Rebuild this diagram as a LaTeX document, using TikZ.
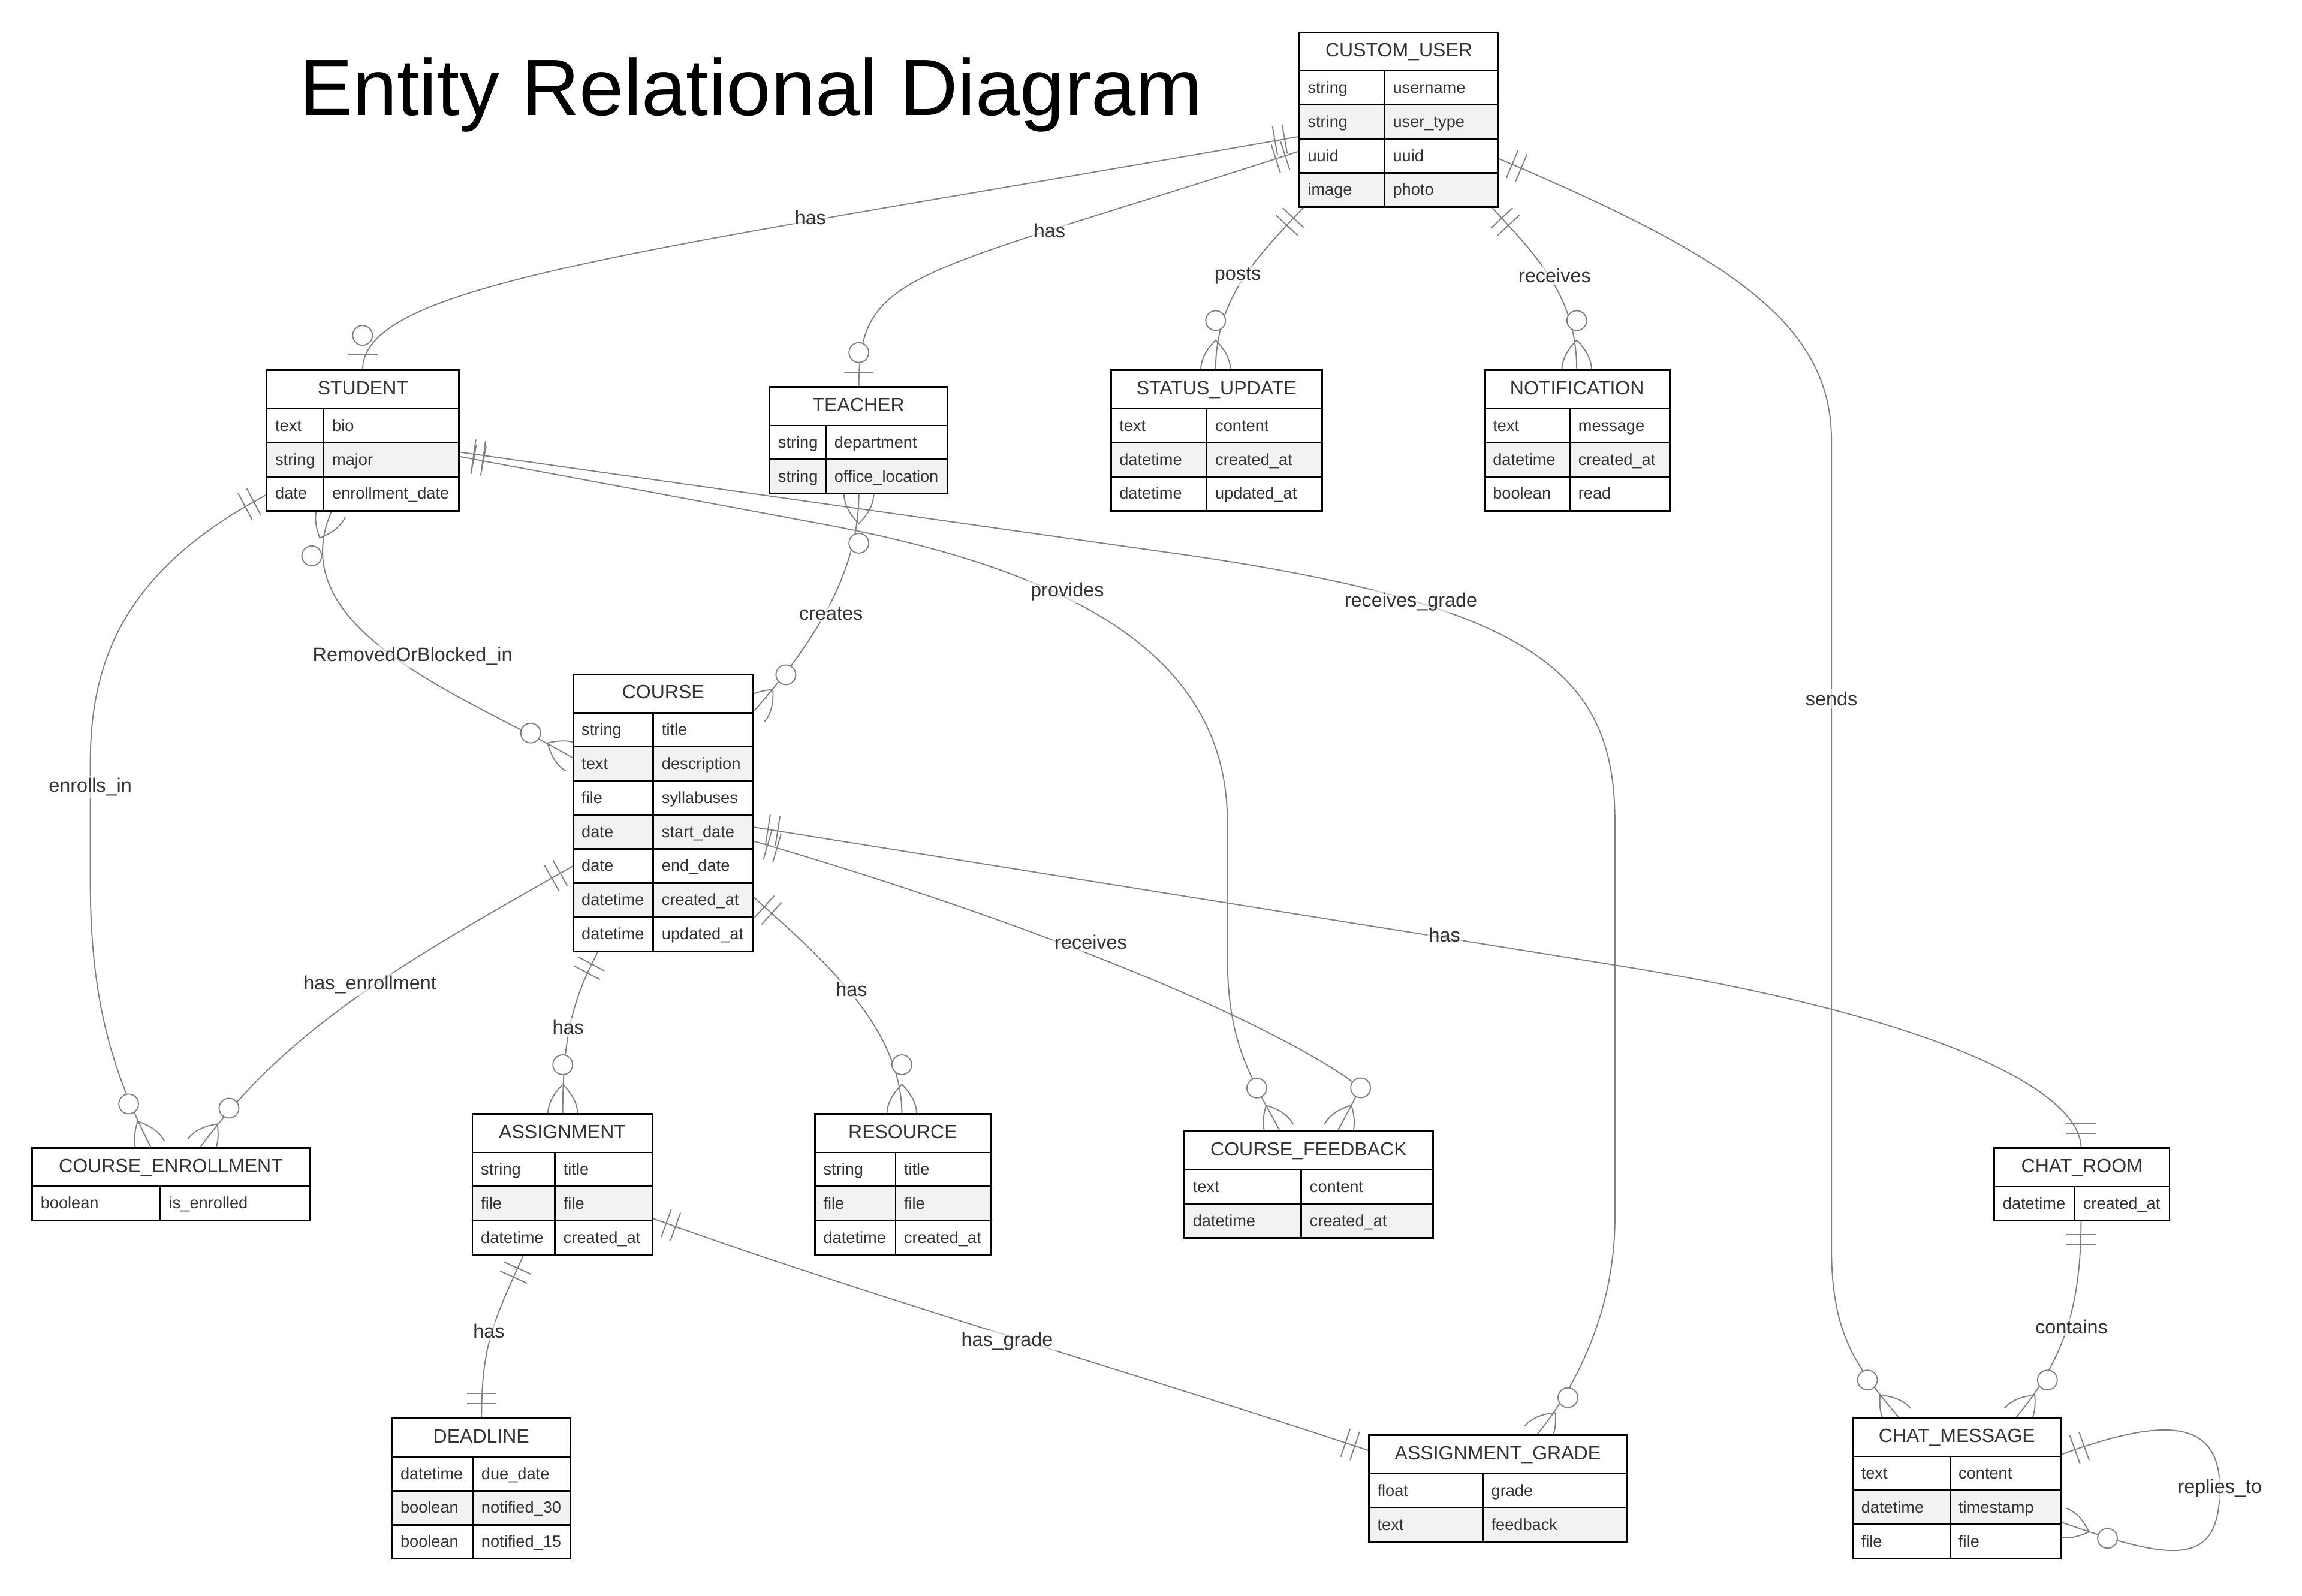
\documentclass[tikz,border=0pt]{standalone}
\usepackage{fontspec}
\setmainfont{Liberation Sans}
\usetikzlibrary{calc}
\definecolor{relgray}{HTML}{808080}
\definecolor{rowgray}{HTML}{F2F2F2}
\definecolor{txt}{HTML}{333333}
\newcommand\fattr{\fontsize{7.9}{9}\selectfont}
\newcommand\fhead{\fontsize{9.3}{11}\selectfont}
\newcommand\flbl{\fontsize{9.4}{11}\selectfont}
\tikzset{
  rel/.style={draw=relgray, line width=0.55pt},
  boxline/.style={draw=black, line width=0.8pt},
  attr/.style={font=\fattr, text=txt, anchor=base west, inner sep=0pt},
  head/.style={font=\fhead, text=txt, anchor=base, inner sep=0pt},
  lbl/.style={font=\flbl, text=txt, fill=white, fill opacity=0.6, text opacity=1, inner sep=1.2pt},
}
% markers: #1 coordinate on box edge, #2 direction pointing away from the box
\newcommand\mkone[2]{%
  \draw[rel] ($(#1)+(#2:10.1)+(#2+90:10.1)$) -- ($(#1)+(#2:10.1)+(#2-90:10.1)$)
             ($(#1)+(#2:16.8)+(#2+90:10.1)$) -- ($(#1)+(#2:16.8)+(#2-90:10.1)$);}
\newcommand\mkzone[2]{%
  \draw[rel] ($(#1)+(#2:10.1)+(#2+90:10.1)$) -- ($(#1)+(#2:10.1)+(#2-90:10.1)$);
  \draw[rel, fill=white] ($(#1)+(#2:23.5)$) circle[radius=0.168cm];}
\newcommand\mkmany[2]{%
  \draw[rel] ($(#1)+(#2+90:10.1)$) .. controls ($(#1)+(#2:6.7)+(#2+90:10.1)$) and ($(#1)+(#2:13.5)+(#2+90:6.7)$) .. ($(#1)+(#2:20.2)$)
     .. controls ($(#1)+(#2:13.5)+(#2-90:6.7)$) and ($(#1)+(#2:6.7)+(#2-90:10.1)$) .. ($(#1)+(#2-90:10.1)$);
  \draw[rel, fill=white] ($(#1)+(#2:33.6)$) circle[radius=0.168cm];}
% entity: id, title, left, top, width, divider x, rows
\newcommand\entity[7]{%
  \pgfmathsetmacro\eL{#3}\pgfmathsetmacro\eT{#4}%
  \pgfmathsetmacro\eR{#3+#5}\pgfmathsetmacro\eH{#4+26.2}%
  \pgfmathsetmacro\eC{#3+#5/2}%
  \path[fill=white] (\eL,\eT) rectangle (\eR,\eH);
  \node[head] (#1-title) at (\eC,\eT+16.7) {#2};
  \foreach \ty/\nm [count=\i] in {#7} {%
    \pgfmathsetmacro\rT{\eH+(\i-1)*23.2}%
    \pgfmathsetmacro\rB{\rT+23.2}%
    \ifodd\i \def\rf{white}\else\def\rf{rowgray}\fi
    \path[fill=\rf] (\eL,\rT) rectangle (\eR,\rB);
    \draw[boxline] (\eL,\rT) -- (\eR,\rT);
    \node[attr] (#1-t\i) at (\eL+5.5,\rT+15.3) {\ty};
    \node[attr] (#1-n\i) at (#6+5.5,\rT+15.3) {\nm};
    \xdef\eB{\rB}%
  }
  \draw[boxline] (#6,\eH) -- (#6,\eB);
  \pgfmathsetmacro\eHt{(\eB-\eT)*0.025}%
  \pgfmathsetmacro\eWd{#5*0.025}%
  \node[boxline, draw, inner sep=0pt, outer sep=0pt, minimum width=\eWd cm, minimum height=\eHt cm, anchor=north west] (#1) at (\eL,\eT) {};
}
\begin{document}
\begin{tikzpicture}[x=0.025cm, y=-0.025cm]
\useasboundingbox (0,0) rectangle (1568,1087);
\fill[white] (0,0) rectangle (1568,1087);

\node[font=\fontsize{38.8}{44}\selectfont, anchor=base west, inner sep=0pt] (title) at (203.5,78.5) {Entity Relational Diagram};

% ---------- endpoint coordinates ----------
\coordinate (p-cu-w1) at (885,93);
\coordinate (p-st-n) at (247,252);
\coordinate (p-cu-w2) at (885,103);
\coordinate (p-te-n) at (585,263.7);
\coordinate (p-cu-s1) at (888,141.2);
\coordinate (p-su-n) at (828,252);
\coordinate (p-cu-s2) at (1016,141.2);
\coordinate (p-no-n) at (1074,252);
\coordinate (p-cu-e) at (1020.7,108);
\coordinate (p-cm-n1) at (1293.6,966);
\coordinate (p-st-w) at (181.7,337);
\coordinate (p-ce-n1) at (103,782);
\coordinate (p-st-s) at (226,348);
\coordinate (p-co-w1) at (390.4,516.5);
\coordinate (p-st-e1) at (312.7,308);
\coordinate (p-ag-n) at (1046.4,978);
\coordinate (p-st-e2) at (312.7,311);
\coordinate (p-cf-n1) at (872,770.8);
\coordinate (p-te-s) at (585,336.5);
\coordinate (p-co-e1) at (513.1,485);
\coordinate (p-co-w2) at (390.4,590);
\coordinate (p-ce-n2) at (136,782);
\coordinate (p-co-s) at (407.6,647.8);
\coordinate (p-as-n) at (383.3,759);
\coordinate (p-co-e2) at (513.1,611);
\coordinate (p-re-n) at (614.3,759);
\coordinate (p-co-e3) at (513.1,573);
\coordinate (p-cf-n2) at (911,770.8);
\coordinate (p-co-e4) at (513.1,563.5);
\coordinate (p-cr-n) at (1417.5,782.3);
\coordinate (p-as-s) at (356.7,854.8);
\coordinate (p-dl-n) at (328,966.3);
\coordinate (p-as-e) at (444.3,830);
\coordinate (p-ag-w) at (932.4,988.3);
\coordinate (p-cr-s) at (1417.5,831.2);
\coordinate (p-cm-n2) at (1373,966);
\coordinate (p-cm-e1) at (1403.8,991);
\coordinate (p-cm-e2) at (1403.8,1037);

% ---------- relationships ----------
% CUSTOM_USER ||--o| STUDENT : has
\draw[rel] (p-cu-w1) .. controls +(170:450) and +(270:60) .. (p-st-n);
\mkone{p-cu-w1}{170} \mkzone{p-st-n}{270}
% CUSTOM_USER ||--o| TEACHER : has
\draw[rel] (p-cu-w2) .. controls +(162:280) and +(270:80) .. (p-te-n);
\mkone{p-cu-w2}{162} \mkzone{p-te-n}{270}
% posts
\draw[rel] (p-cu-s1) .. controls +(133:45) and +(270:50) .. (p-su-n);
\mkone{p-cu-s1}{133} \mkmany{p-su-n}{270}
% receives
\draw[rel] (p-cu-s2) .. controls +(47:45) and +(270:50) .. (p-no-n);
\mkone{p-cu-s2}{47} \mkmany{p-no-n}{270}
% sends
\draw[rel] (p-cu-e) .. controls +(23:170) and +(270:80) .. (1247.5,300) -- (1247.5,850)
   .. controls +(90:60) and +(230:45) .. (p-cm-n1);
\mkone{p-cu-e}{23} \mkmany{p-cm-n1}{230}
% enrolls_in
\draw[rel] (p-st-w) .. controls +(152:110) and +(270:70) .. (61.5,520) -- (61.5,600)
   .. controls +(90:80) and +(242.8:60) .. (p-ce-n1);
\mkone{p-st-w}{152} \mkmany{p-ce-n1}{242.8}
% RemovedOrBlocked_in
\draw[rel] (p-st-s) .. controls +(114:90) and +(210.5:80) .. (p-co-w1);
\mkmany{p-st-s}{114} \mkmany{p-co-w1}{210.5}
% receives_grade
\draw[rel] (p-st-e1) -- (800,377) .. controls +(8:250) and +(270:100) .. (1100,560) -- (1100,830)
   .. controls +(90:60) and +(310:45) .. (p-ag-n);
\mkone{p-st-e1}{8} \mkmany{p-ag-n}{310}
% provides
\draw[rel] (p-st-e2) -- (560,357) .. controls +(10.5:180) and +(270:110) .. (836,560) -- (836,650)
   .. controls +(90:60) and +(241.6:45) .. (p-cf-n1);
\mkone{p-st-e2}{10.5} \mkmany{p-cf-n1}{241.6}
% creates
\draw[rel] (p-te-s) .. controls +(90:55) and +(311.3:60) .. (p-co-e1);
\mkmany{p-te-s}{90} \mkmany{p-co-e1}{311.3}
% has_enrollment
\draw[rel] (p-co-w2) .. controls +(150.5:140) and +(306.5:100) .. (p-ce-n2);
\mkone{p-co-w2}{150.5} \mkmany{p-ce-n2}{306.5}
% COURSE has ASSIGNMENT
\draw[rel] (p-co-s) .. controls +(118:40) and +(270:50) .. (p-as-n);
\mkone{p-co-s}{118} \mkmany{p-as-n}{270}
% COURSE has RESOURCE
\draw[rel] (p-co-e2) .. controls +(42:60) and +(270:60) .. (p-re-n);
\mkone{p-co-e2}{42} \mkmany{p-re-n}{270}
% receives (feedback)
\coordinate (p-cf-c2) at ($(p-cf-n2)+(298:33.6)$);
\draw[rel] (p-co-e3) .. controls +(16.3:230) and +(218:60) .. (p-cf-c2) -- (p-cf-n2);
\mkone{p-co-e3}{16.3} \mkmany{p-cf-n2}{298}
% COURSE has CHAT_ROOM
\draw[rel] (p-co-e4) -- (1100,657.5) .. controls +(9.1:220) and +(270:40) .. (p-cr-n);
\mkone{p-co-e4}{9.1} \mkone{p-cr-n}{270}
% ASSIGNMENT has DEADLINE
\draw[rel] (p-as-s) .. controls +(114.4:50) and +(270:50) .. (p-dl-n);
\mkone{p-as-s}{114.4} \mkone{p-dl-n}{270}
% has_grade
\draw[rel] (p-as-e) .. controls +(20:150) and +(198.5:150) .. (p-ag-w);
\mkone{p-as-e}{20} \mkone{p-ag-w}{198.5}
% contains
\draw[rel] (p-cr-s) .. controls +(90:60) and +(310:50) .. (p-cm-n2);
\mkone{p-cr-s}{90} \mkmany{p-cm-n2}{310}
% replies_to
\draw[rel] (p-cm-e1) .. controls +(340:70) and +(270:50) .. (1512,1014) .. controls +(90:55) and +(19.3:80) .. (p-cm-e2);
\mkone{p-cm-e1}{340} \mkmany{p-cm-e2}{19.3}

% ---------- entities ----------
\entity{cu}{CUSTOM\_USER}{885}{22}{135.7}{943}{string/username, string/user\_type, uuid/uuid, image/photo}
\entity{st}{STUDENT}{181.7}{252.2}{131}{220.5}{text/bio, string/major, date/enrollment\_date}
\entity{te}{TEACHER}{524.2}{263.7}{121.2}{562.6}{string/department, string/office\_location}
\entity{su}{STATUS\_UPDATE}{756.7}{252.2}{143.8}{822}{text/content, datetime/created\_at, datetime/updated\_at}
\entity{no}{NOTIFICATION}{1011.1}{252.2}{126.2}{1069.3}{text/message, datetime/created\_at, boolean/read}
\entity{co}{COURSE}{390.4}{459.4}{122.7}{445}{string/title, text/description, file/syllabuses, date/start\_date, date/end\_date, datetime/created\_at, datetime/updated\_at}
\entity{ce}{COURSE\_ENROLLMENT}{21.9}{782}{189}{109.3}{boolean/is\_enrolled}
\entity{as}{ASSIGNMENT}{321.8}{759}{122.5}{378}{string/title, file/file, datetime/created\_at}
\entity{re}{RESOURCE}{555.1}{759}{119.6}{610}{string/title, file/file, datetime/created\_at}
\entity{cf}{COURSE\_FEEDBACK}{806.7}{770.8}{169.3}{886.4}{text/content, datetime/created\_at}
\entity{cr}{CHAT\_ROOM}{1358.4}{782.3}{119.3}{1413.1}{datetime/created\_at}
\entity{dl}{DEADLINE}{267}{966.3}{121.6}{322.1}{datetime/due\_date, boolean/notified\_30, boolean/notified\_15}
\entity{ag}{ASSIGNMENT\_GRADE}{932.4}{977.8}{175.6}{1010}{float/grade, text/feedback}
\entity{cm}{CHAT\_MESSAGE}{1262}{966}{141.8}{1328.3}{text/content, datetime/timestamp, file/file}

% ---------- labels ----------
\node[lbl] (l1) at (552,148) {has};
\node[lbl] (l2) at (715,157) {has};
\node[lbl] (l3) at (843,188) {posts};
\node[lbl] (l4) at (1059,188) {receives};
\node[lbl] (l5) at (1247.5,476) {sends};
\node[lbl] (l6) at (61.5,536) {enrolls\_in};
\node[lbl] (l7) at (281,447) {RemovedOrBlocked\_in};
\node[lbl] (l8) at (961,410) {receives\_grade};
\node[lbl] (l9) at (727,403) {provides};
\node[lbl] (l10) at (566,418) {creates};
\node[lbl] (l11) at (252,671) {has\_enrollment};
\node[lbl] (l12) at (387,700) {has};
\node[lbl] (l13) at (580,674) {has};
\node[lbl] (l14) at (743,642) {receives};
\node[lbl] (l15) at (984,637) {has};
\node[lbl] (l16) at (333,907) {has};
\node[lbl] (l17) at (686,914) {has\_grade};
\node[lbl] (l18) at (1411,904) {contains};
\node[lbl] (l19) at (1512,1014) {replies\_to};
\end{tikzpicture}
\end{document}
